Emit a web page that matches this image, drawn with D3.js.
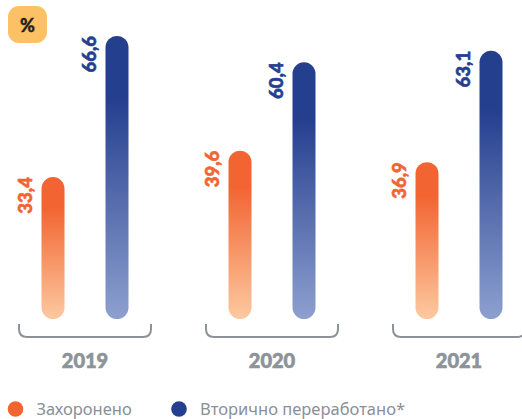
<!DOCTYPE html>
<html>
<head>
<meta charset="utf-8">
<script src="https://cdn.jsdelivr.net/npm/d3@7/dist/d3.min.js"></script>
<style>
  html, body { margin: 0; padding: 0; background: #fff; }
  svg { display: block; }
</style>
</head>
<body>
<svg id="chart" width="522" height="419"></svg>
<script>
// Waste handling shares by year, %
const years = ["2019", "2020", "2021"];
const buried = [33.4, 39.6, 36.9];
const recycled = [66.6, 60.4, 63.1];
const seriesNames = ["Захоронено", "Вторично переработано*"];
const unitLabel = "%";

const fmt = v => d3.format(".1f")(v).replace(".", ",");

const svg = d3.select("#chart");
const baseY = 319;

const x = d3.scalePoint().domain(years).range([85, 459]);
const y = d3.scaleLinear().domain([0, 70]).range([baseY, baseY - 70 * 4.25]);

const series = [
  { key: "buried", name: seriesNames[0], values: buried, offset: -32,
    top: "#f26532", bottom: "#fdc9a0", text: "#f26532", dot: "#f26532" },
  { key: "recycled", name: seriesNames[1], values: recycled, offset: 32,
    top: "#253f8f", bottom: "#8da0cf", text: "#253f8f", dot: "#253f8f" }
];

const defs = svg.append("defs");
series.forEach(s => {
  const g = defs.append("linearGradient")
    .attr("id", "grad-" + s.key)
    .attr("x1", 0).attr("y1", 0).attr("x2", 0).attr("y2", 1);
  g.append("stop").attr("offset", "0%").attr("stop-color", s.top);
  g.append("stop").attr("offset", "22%").attr("stop-color", s.top);
  g.append("stop").attr("offset", "100%").attr("stop-color", s.bottom);
});

const barW = 23;

// bars with value labels
series.forEach(s => {
  const rows = years.map((yr, i) => ({ yr, v: s.values[i] }));
  svg.append("g").selectAll("rect").data(rows).join("rect")
    .attr("x", d => x(d.yr) + s.offset - barW / 2)
    .attr("y", d => y(d.v))
    .attr("width", barW)
    .attr("height", d => y(0) - y(d.v))
    .attr("rx", barW / 2)
    .attr("fill", `url(#grad-${s.key})`);

  svg.append("g").selectAll("text").data(rows).join("text")
    .attr("transform", d => `translate(${x(d.yr) + s.offset - barW / 2 - 9.5},${y(d.v)}) rotate(-90)`)
    .attr("text-anchor", "end")
    .attr("font-family", "Lato, 'Open Sans', sans-serif")
    .attr("font-weight", 900)
    .attr("font-size", 18.5)
    .attr("fill", s.text)
    .attr("stroke", s.text)
    .attr("stroke-width", 0.6)
    .text(d => fmt(d.v));
});

// brackets under each year group
const bh = 66, by0 = 324, by1 = 337, r = 8;
svg.append("g").selectAll("path").data(years).join("path")
  .attr("d", yr => {
    const c = x(yr);
    return `M${c - bh},${by0} L${c - bh},${by1 - r} Q${c - bh},${by1} ${c - bh + r},${by1}` +
           ` L${c + bh - r},${by1} Q${c + bh},${by1} ${c + bh},${by1 - r} L${c + bh},${by0}`;
  })
  .attr("fill", "none")
  .attr("stroke", "#8c9298")
  .attr("stroke-width", 2);

// year labels
svg.append("g").selectAll("text").data(years).join("text")
  .attr("x", yr => x(yr))
  .attr("y", 368)
  .attr("text-anchor", "middle")
  .attr("font-family", "Lato, 'Open Sans', sans-serif")
  .attr("font-weight", 900)
  .attr("font-size", 20)
  .attr("fill", "#8c9399")
  .attr("stroke", "#8c9399")
  .attr("stroke-width", 0.6)
  .text(yr => yr);

// unit badge
svg.append("rect")
  .attr("x", 8).attr("y", 6).attr("width", 39).attr("height", 37)
  .attr("rx", 11).attr("fill", "#fdc165");
svg.append("text")
  .attr("x", 27.5).attr("y", 31.5)
  .attr("text-anchor", "middle")
  .attr("font-family", "Lato, 'Open Sans', sans-serif")
  .attr("font-weight", 900)
  .attr("font-size", 18)
  .attr("fill", "#222")
  .attr("stroke", "#222")
  .attr("stroke-width", 0.4)
  .text(unitLabel);

// legend
const legendX = [15.5, 179];
const leg = svg.append("g").selectAll("g").data(series).join("g")
  .attr("transform", (s, i) => `translate(${legendX[i]},409)`);
leg.append("circle").attr("r", 7.8).attr("fill", s => s.dot);
leg.append("text")
  .attr("x", 21).attr("y", 5.5)
  .attr("font-family", "'Noto Sans', 'Open Sans', sans-serif")
  .attr("font-size", 16.5)
  .attr("fill", "#8a9097")
  .text(s => s.name);
</script>
</body>
</html>
